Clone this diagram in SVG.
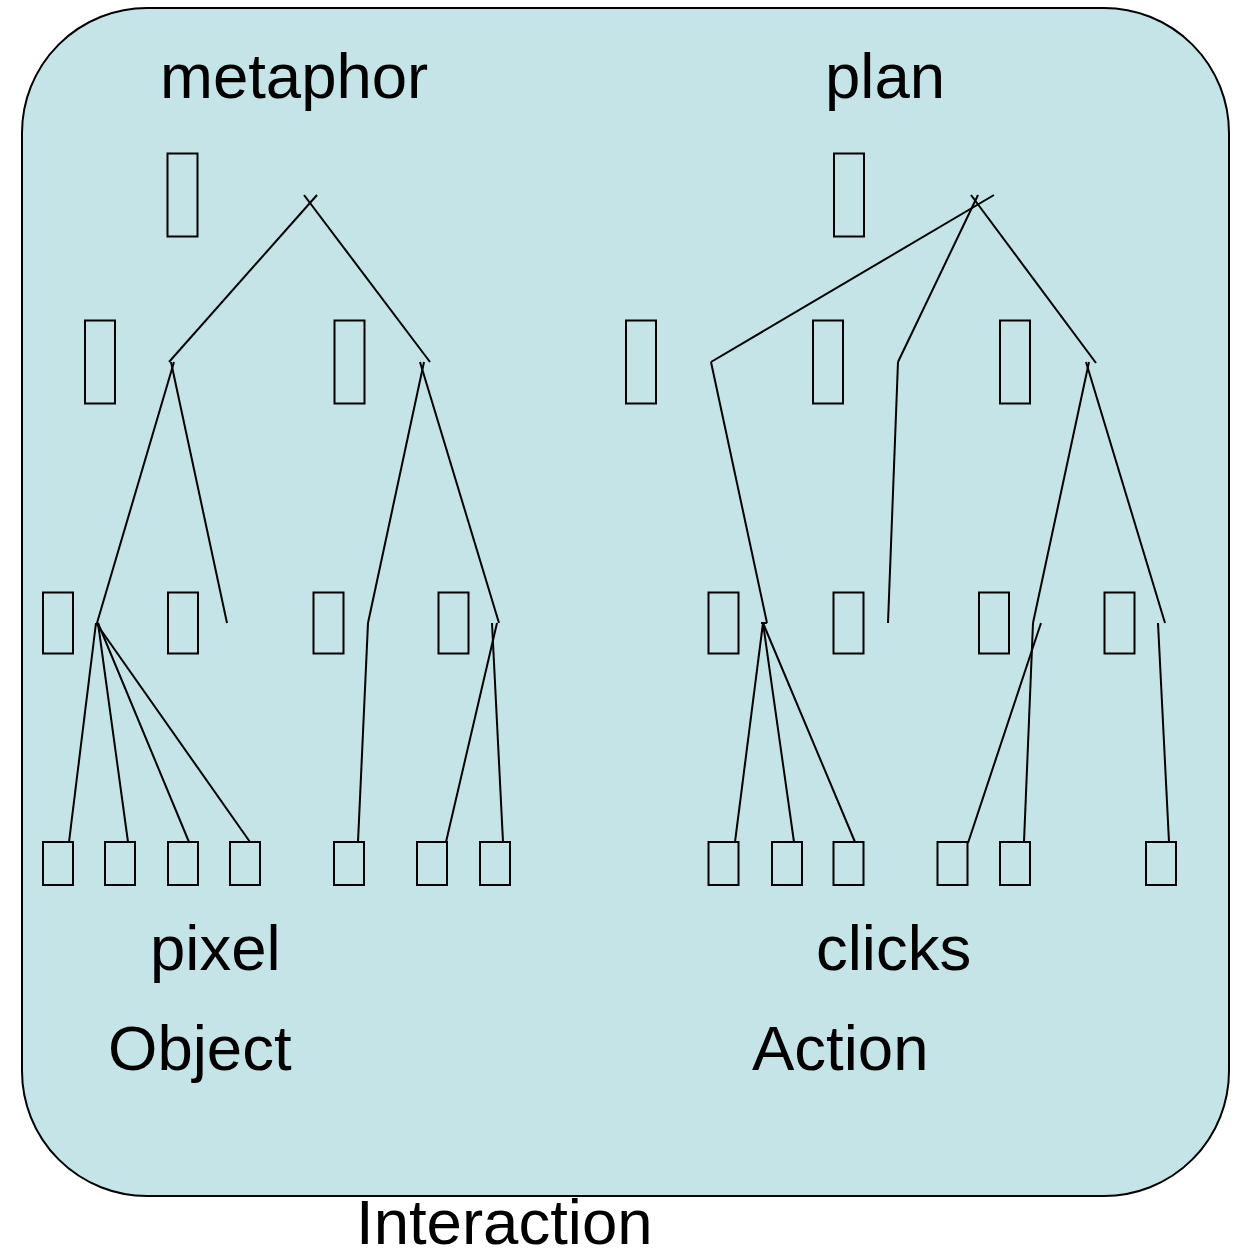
<svg xmlns="http://www.w3.org/2000/svg" width="1237" height="1251" viewBox="0 0 1237 1251">
<style>
.bg{fill:#C4E4E7;stroke:#000;stroke-width:2}
.n{fill:none;stroke:#000;stroke-width:2}
.c line{stroke:#000;stroke-width:2;stroke-linecap:butt}
text{font-family:"Liberation Sans",Arial,sans-serif;font-size:63.5px;fill:#000}
</style>
<rect width="1237" height="1251" fill="#fff"/>
<rect class="bg" x="22" y="8" width="1207" height="1188" rx="125" ry="125"/>
<text x="160" y="98">metaphor</text>
<text x="825" y="98">plan</text>
<text x="150" y="970">pixel</text>
<text x="816" y="970">clicks</text>
<text x="108" y="1070">Object</text>
<text x="752" y="1070">Action</text>
<text x="356" y="1244">Interaction</text>
<g id="nodes-left">
<rect id="L0" class="n" x="167.5" y="153.5" width="30" height="83"/>
<rect id="L1a" class="n" x="85" y="320.5" width="30" height="83"/>
<rect id="L1b" class="n" x="334.5" y="320.5" width="30" height="83"/>
<rect id="L2a" class="n" x="43" y="592.5" width="30" height="61"/>
<rect id="L2b" class="n" x="168" y="592.5" width="30" height="61"/>
<rect id="L2c" class="n" x="313.5" y="592.5" width="30" height="61"/>
<rect id="L2d" class="n" x="438.5" y="592.5" width="30" height="61"/>
<rect id="L3a" class="n" x="43" y="842" width="30" height="43"/>
<rect id="L3b" class="n" x="105" y="842" width="30" height="43"/>
<rect id="L3c" class="n" x="168" y="842" width="30" height="43"/>
<rect id="L3d" class="n" x="230" y="842" width="30" height="43"/>
<rect id="L3e" class="n" x="334" y="842" width="30" height="43"/>
<rect id="L3f" class="n" x="417" y="842" width="30" height="43"/>
<rect id="L3g" class="n" x="480" y="842" width="30" height="43"/>
</g>
<g id="nodes-right">
<rect id="R0" class="n" x="834" y="153.5" width="30" height="83"/>
<rect id="R1a" class="n" x="626" y="320.5" width="30" height="83"/>
<rect id="R1b" class="n" x="813" y="320.5" width="30" height="83"/>
<rect id="R1c" class="n" x="1000" y="320.5" width="30" height="83"/>
<rect id="R2a" class="n" x="708.5" y="592.5" width="30" height="61"/>
<rect id="R2b" class="n" x="833.5" y="592.5" width="30" height="61"/>
<rect id="R2c" class="n" x="979" y="592.5" width="30" height="61"/>
<rect id="R2d" class="n" x="1104.5" y="592.5" width="30" height="61"/>
<rect id="R3a" class="n" x="708.5" y="842" width="30" height="43"/>
<rect id="R3b" class="n" x="772" y="842" width="30" height="43"/>
<rect id="R3c" class="n" x="833.5" y="842" width="30" height="43"/>
<rect id="R3d" class="n" x="937.5" y="842" width="30" height="43"/>
<rect id="R3e" class="n" x="1000" y="842" width="30" height="43"/>
<rect id="R3f" class="n" x="1146" y="842" width="30" height="43"/>
</g>
<g id="connectors" class="c">
<line x1="317" y1="195" x2="169" y2="362"/>
<line x1="304" y1="195" x2="430" y2="362"/>
<line x1="174" y1="362" x2="97" y2="623"/>
<line x1="171" y1="362" x2="227" y2="623"/>
<line x1="424" y1="362" x2="368" y2="623"/>
<line x1="420" y1="362" x2="499" y2="623"/>
<line x1="96" y1="623" x2="69" y2="842"/>
<line x1="98" y1="623" x2="128" y2="842"/>
<line x1="98" y1="623" x2="189" y2="842"/>
<line x1="96" y1="623" x2="250" y2="842"/>
<line x1="368" y1="623" x2="358" y2="842"/>
<line x1="497" y1="623" x2="446" y2="842"/>
<line x1="492" y1="623" x2="503" y2="842"/>
<line x1="994" y1="195" x2="711" y2="362"/>
<line x1="978" y1="195" x2="898" y2="362"/>
<line x1="971" y1="195" x2="1096" y2="363"/>
<line x1="711" y1="362" x2="767" y2="623"/>
<line x1="898" y1="362" x2="888" y2="623"/>
<line x1="1089" y1="362" x2="1033" y2="623"/>
<line x1="1086" y1="362" x2="1165" y2="623"/>
<line x1="767" y1="623" x2="761" y2="623"/>
<line x1="763" y1="623" x2="735" y2="842"/>
<line x1="763" y1="623" x2="794" y2="842"/>
<line x1="763" y1="623" x2="855" y2="842"/>
<line x1="1033" y1="623" x2="1024" y2="842"/>
<line x1="1041" y1="623" x2="968" y2="843"/>
<line x1="1158" y1="623" x2="1169" y2="842"/>
</g>
</svg>
